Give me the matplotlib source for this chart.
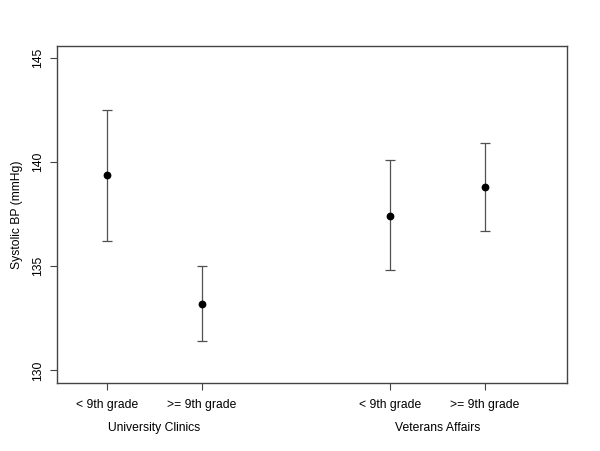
import numpy as np
import matplotlib.pyplot as plt

plt.rcParams['font.family'] = ['Liberation Sans', 'DejaVu Sans']

# group means and 95% CI limits
positions = [1, 2, 4, 5]
tick_labels = ['< 9th grade', '>= 9th grade', '< 9th grade', '>= 9th grade']
groups = ['University Clinics', 'Veterans Affairs']
group_pos = [1.5, 4.5]
means = [139.4, 133.2, 137.4, 138.8]
upper = [142.5, 135.0, 140.1, 140.9]
lower = [136.2, 131.4, 134.8, 136.7]

means = np.array(means)
err = np.array([means - np.array(lower), np.array(upper) - means])

fig = plt.figure(figsize=(6, 4.51), dpi=100)
ax = fig.add_axes([0.095, 0.1497, 0.85, 0.7493])

ax.errorbar(positions, means, yerr=err, fmt='none', ecolor='#505050',
            elinewidth=0.9, capsize=3.5, capthick=0.9)
ax.plot(positions, means, 'o', color='black', markersize=4.6)

ax.set_xlim(0.47, 5.87)
ax.set_ylim(129.37, 145.6)
ax.set_yticks([130, 135, 140, 145])
ax.set_yticklabels(['130', '135', '140', '145'], rotation=90, va='center')
ax.set_xticks(positions)
ax.set_xticklabels(tick_labels)
ax.tick_params(axis='both', direction='out', length=5, width=0.8,
               color='#444444', labelsize=8.7)
ax.tick_params(axis='y', pad=4)
ax.tick_params(axis='x', pad=6)
for s in ax.spines.values():
    s.set_color('#444444')
    s.set_linewidth(1)

ax.set_ylabel('Systolic BP (mmHg)', fontsize=8.7, labelpad=7)

for g, gp in zip(groups, group_pos):
    ax.text(gp, -0.1326, g, transform=ax.get_xaxis_transform(),
            ha='center', va='center', fontsize=8.7)

fig.savefig('out.png', dpi=100)
